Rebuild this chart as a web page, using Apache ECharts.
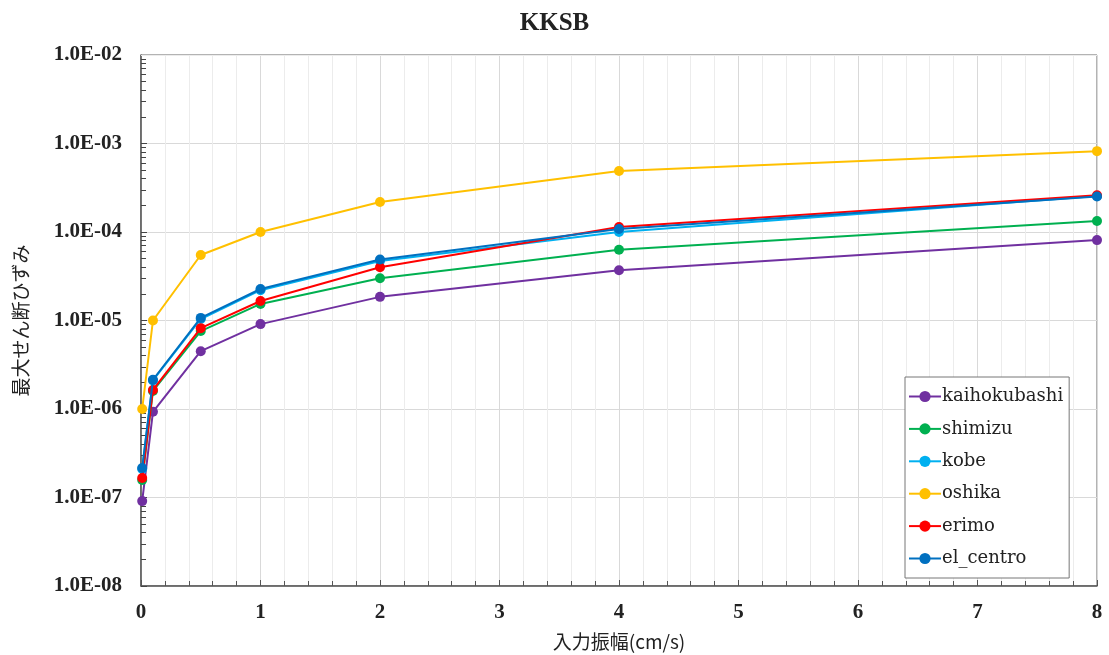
<!DOCTYPE html>
<html>
<head>
<meta charset="utf-8">
<script src="https://cdn.jsdelivr.net/npm/echarts@6/dist/echarts.min.js"></script>
<style>
  html, body { margin: 0; padding: 0; background: #fff; }
  #chart { width: 1109px; height: 655px; }
</style>
</head>
<body>
<div id="chart"></div>
<script>
// Input amplitude (cm/s)
const amplitudes = [0.01, 0.1, 0.5, 1, 2, 4, 8];

// Maximum shear strain per input wave
const kaihokubashi = [9.1e-8, 9.3e-7, 4.5e-6, 9.1e-6, 1.85e-5, 3.7e-5, 8.1e-5];
const shimizu      = [1.58e-7, 1.6e-6, 7.6e-6, 1.54e-5, 3.0e-5, 6.3e-5, 1.33e-4];
const kobe         = [2.1e-7, 2.1e-6, 1.04e-5, 2.2e-5, 4.7e-5, 1.0e-4, 2.55e-4];
const oshika       = [1.0e-6, 1.0e-5, 5.5e-5, 1.0e-4, 2.18e-4, 4.9e-4, 8.2e-4];
const erimo        = [1.66e-7, 1.64e-6, 8.2e-6, 1.66e-5, 4.0e-5, 1.14e-4, 2.6e-4];
const el_centro    = [2.15e-7, 2.14e-6, 1.07e-5, 2.27e-5, 4.9e-5, 1.08e-4, 2.52e-4];

const seriesNames = ['kaihokubashi', 'shimizu', 'kobe', 'oshika', 'erimo', 'el_centro'];
const seriesValues = [kaihokubashi, shimizu, kobe, oshika, erimo, el_centro];
const seriesColors = ['#7030A0', '#00B050', '#00B0F0', '#FFC000', '#FF0000', '#0070C0'];

// Log decade exponents of the y axis
const decadeExponents = [-8, -7, -6, -5, -4, -3];

const serif = '"Liberation Serif", "DejaVu Serif", serif';
const wideSerif = '"DejaVu Serif", serif';
const jp = '"Noto Sans CJK JP", sans-serif';

// Intermediate log grid values 2..9 in each decade
const minorValues = [];
decadeExponents.forEach(e => {
  for (let k = 2; k <= 9; k++) minorValues.push(k * Math.pow(10, e));
});

function fmtExp(v) {
  const e = Math.round(Math.log10(v));
  const sign = e < 0 ? '-' : '+';
  const abs = Math.abs(e);
  return '1.0E' + sign + (abs < 10 ? '0' + abs : abs);
}

const chart = echarts.init(document.getElementById('chart'), null, { renderer: 'canvas' });

const lineSeries = seriesNames.map((name, i) => ({
  name: name,
  type: 'line',
  data: amplitudes.map((x, j) => [x, seriesValues[i][j]]),
  symbol: 'circle',
  symbolSize: 10,
  lineStyle: { width: 2, color: seriesColors[i] },
  itemStyle: { color: seriesColors[i] },
  z: 10 + i
}));

// Minor horizontal gridlines and their short ticks on the left axis
const minorGridSeries = {
  name: '_minor',
  type: 'line',
  data: [],
  silent: true,
  z: 1,
  markLine: {
    silent: true,
    symbol: 'none',
    label: { show: false },
    animation: false,
    lineStyle: { color: '#ececec', width: 1, type: 'solid' },
    data: minorValues.map(v => ({ yAxis: v }))
  }
};
const minorTickSeries = {
  name: '_minortick',
  type: 'line',
  data: [],
  silent: true,
  z: 3,
  markLine: {
    silent: true,
    symbol: 'none',
    label: { show: false },
    animation: false,
    lineStyle: { color: '#444', width: 1, type: 'solid' },
    data: minorValues.map(v => [{ coord: [0, v] }, { coord: [0.042, v] }])
  }
};

chart.setOption({
  animation: false,
  backgroundColor: '#ffffff',
  title: {
    text: 'KKSB',
    left: 'center',
    top: 6,
    textStyle: { fontFamily: serif, fontWeight: 'bold', fontSize: 25, color: '#222' }
  },
  legend: {
    data: seriesNames,
    orient: 'vertical',
    left: 905,
    top: 377,
    padding: [9, 6, 9, 3],
    itemWidth: 32,
    itemHeight: 14,
    itemGap: 11.4,
    backgroundColor: '#fff',
    borderColor: '#777',
    borderWidth: 1,
    textStyle: { fontFamily: wideSerif, fontSize: 18, lineHeight: 21, color: '#222', padding: [0, 0, 0, -4] }
  },
  grid: {
    left: 141,
    right: 12,
    top: 55,
    bottom: 69,
    show: true,
    borderColor: '#666',
    borderWidth: 1,
    backgroundColor: 'transparent',
    containLabel: false,
    outerBoundsMode: 'none'
  },
  xAxis: {
    type: 'value',
    min: 0,
    max: 8,
    interval: 1,
    name: '入力振幅(cm/s)',
    nameLocation: 'middle',
    nameGap: 46,
    nameTextStyle: { fontFamily: jp, fontSize: 19, color: '#222' },
    axisLine: { show: true, lineStyle: { color: '#555', width: 1.5 } },
    axisTick: { show: true, inside: true, length: 6, lineStyle: { color: '#555' } },
    minorTick: { show: true, splitNumber: 5, length: 5, lineStyle: { color: '#555' } },
    axisLabel: { fontFamily: serif, fontWeight: 'bold', fontSize: 21, color: '#222', margin: 16 },
    splitLine: { show: true, lineStyle: { color: '#d9d9d9', width: 1 } },
    minorSplitLine: { show: true, lineStyle: { color: '#ececec', width: 1 } }
  },
  yAxis: {
    type: 'log',
    logBase: 10,
    min: 1e-8,
    max: 1e-2,
    interval: 1,
    name: '最大せん断ひずみ',
    nameLocation: 'middle',
    nameRotate: 90,
    nameGap: 111,
    nameTextStyle: { fontFamily: jp, fontSize: 19, color: '#222' },
    axisLine: { show: true, lineStyle: { color: '#555', width: 1.5 } },
    axisTick: { show: true, inside: true, length: 6, lineStyle: { color: '#444' } },
    axisLabel: {
      fontFamily: serif, fontWeight: 'bold', fontSize: 21, color: '#222', margin: 19,
      formatter: v => fmtExp(v)
    },
    splitLine: { show: true, lineStyle: { color: '#d9d9d9', width: 1 } }
  },
  series: [minorGridSeries, minorTickSeries].concat(lineSeries)
});
</script>
</body>
</html>
